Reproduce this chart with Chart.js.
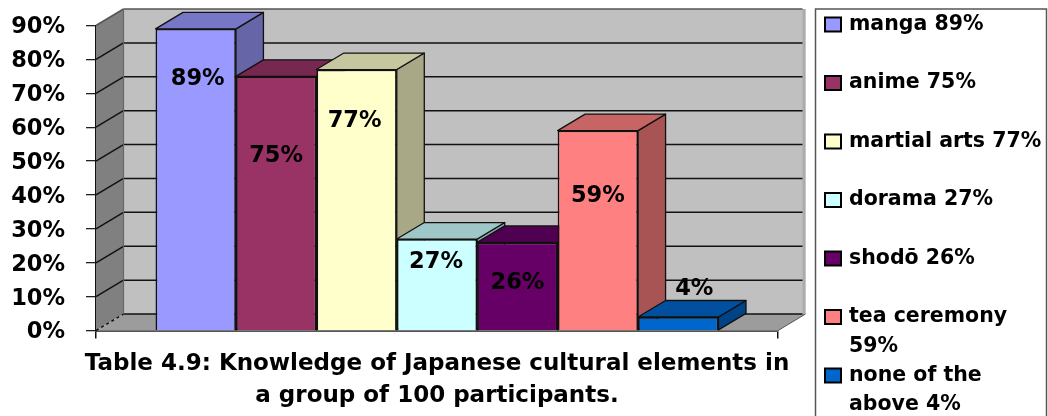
<!DOCTYPE html>
<html><head><meta charset="utf-8">
<style>html,body{margin:0;padding:0;background:#fff;overflow:hidden}canvas{display:block;filter:blur(.45px)}</style>
<script src="https://cdn.jsdelivr.net/npm/chart.js@4/dist/chart.umd.min.js"></script>
</head><body><canvas id="c" width="1048" height="416"></canvas>
<script>
const categories = [""];
const seriesNames = ["manga","anime","martial arts","dorama","shodō","tea ceremony","none of the above"];
const seriesValues = [89,75,77,27,26,59,4];
const seriesColors = ["#9999FF","#993366","#FFFFCC","#CCFFFF","#660066","#FF8080","#0066CC"];
const legendLines = [["manga 89%"],["anime 75%"],["martial arts 77%"],["dorama 27%"],["shodō 26%"],["tea ceremony","59%"],["none of the","above 4%"]];
const titleLines = ["Table 4.9: Knowledge of Japanese cultural elements in","a group of 100 participants."];
const yMax = 90, yStep = 10;

const FONT = '"DejaVu Sans"';
const DX = 27.5, DY = -16.5;
const labelNudge = [[2,50],[0,80],[-2,52],[-1,23],[0,41],[0,66],[16,-28]];

function shade(hex,k){
  const n=parseInt(hex.slice(1),16);
  return `rgb(${Math.round((n>>16)*k)},${Math.round(((n>>8)&255)*k)},${Math.round((n&255)*k)})`;
}
function poly(ctx,pts,fill,stroke,lw){
  ctx.beginPath();pts.forEach((p,i)=>i?ctx.lineTo(p[0],p[1]):ctx.moveTo(p[0],p[1]));ctx.closePath();
  if(fill){ctx.fillStyle=fill;ctx.fill();}
  if(stroke){ctx.strokeStyle=stroke;ctx.lineWidth=lw||1;ctx.stroke();}
}
const walls={
  id:'walls',
  afterLayout(chart){
    // the title is wider than the plot area it is centred on
    const t=chart.titleBlock; t.left-=30; t.right+=30; t.width+=60;
  },
  beforeDatasetsDraw(chart){
    const {ctx,scales:{y},chartArea:a}=chart;
    const y0=y.getPixelForValue(0), yT=y.getPixelForValue(yMax), L=a.left, R=a.right;
    ctx.save();
    poly(ctx,[[L+DX,yT+DY],[R+DX,yT+DY],[R+DX,y0+DY],[L+DX,y0+DY]],'#C0C0C0');
    poly(ctx,[[R+DX-3,yT+DY],[R+DX,yT+DY],[R+DX,y0+DY],[R+DX-3,y0+DY+2]],'#ACACAC');
    poly(ctx,[[L,yT],[L+DX,yT+DY],[L+DX,y0+DY],[L,y0]],'#808080');
    poly(ctx,[[L,y0],[R,y0],[R+DX,y0+DY],[L+DX,y0+DY]],'#9C9C9C');
    ctx.lineWidth=1.5;
    for(let v=0;v<=yMax;v+=yStep){
      const p=y.getPixelForValue(v);
      ctx.strokeStyle=v===yMax?'#555':'#111';
      ctx.beginPath();ctx.moveTo(L+DX,p+DY);ctx.lineTo(R+DX-3,p+DY);ctx.stroke();
      ctx.setLineDash(v===0?[3,3]:[]);
      ctx.beginPath();ctx.moveTo(L,p);ctx.lineTo(L+DX,p+DY);ctx.stroke();
      ctx.setLineDash([]);
    }
    ctx.strokeStyle='#666';ctx.lineWidth=1.2;
    ctx.beginPath();ctx.moveTo(L+DX,yT+DY);ctx.lineTo(L+DX,y0+DY);ctx.stroke();
    ctx.strokeStyle='#555';ctx.lineWidth=1;
    ctx.beginPath();ctx.moveTo(R,y0);ctx.lineTo(R+DX,y0+DY);ctx.stroke();
    // side and top faces, painted left to right; the fronts drawn afterwards cover what lies behind them
    ctx.lineJoin='round';
    seriesValues.forEach((_,i)=>{
      const bar=chart.getDatasetMeta(i).data[0], col=seriesColors[i];
      const l=bar.x-bar.width/2, r=bar.x+bar.width/2, t=bar.y, b=bar.base;
      poly(ctx,[[r,t],[r+DX,t+DY],[r+DX,b+DY],[r,b]],shade(col,.66),'#111',1.3);
      poly(ctx,[[l,t],[r,t],[r+DX,t+DY],[l+DX,t+DY]],shade(col,.78),'#111',1.3);
    });
    ctx.restore();
  },
  afterDatasetsDraw(chart){
    const {ctx}=chart;
    ctx.save();ctx.font=`bold 22.5px ${FONT}`;ctx.fillStyle='#000';ctx.textAlign='center';ctx.textBaseline='middle';
    seriesValues.forEach((v,i)=>{
      const bar=chart.getDatasetMeta(i).data[0];
      ctx.fillText(v+'%',bar.x+labelNudge[i][0],bar.y+labelNudge[i][1]);
    });
    ctx.restore();
  },
  afterDraw(chart){
    const {ctx}=chart;
    ctx.save();
    ctx.strokeStyle='#555';ctx.lineWidth=1.5;ctx.strokeRect(815.5,9,231,420);
    ctx.font=`bold 20.5px ${FONT}`;ctx.textBaseline='middle';ctx.textAlign='left';
    legendLines.forEach((lines,i)=>{
      const yy=24.5+i*58.5;
      ctx.fillStyle=seriesColors[i];ctx.fillRect(825,yy-7,16,14);
      ctx.strokeStyle='#000';ctx.lineWidth=2;ctx.strokeRect(825,yy-7,16,14);
      ctx.fillStyle='#000';
      lines.forEach((s,j)=>ctx.fillText(s,849,yy+j*29.5));
    });
    ctx.restore();
  }
};
new Chart(document.getElementById('c'),{
  type:'bar',
  data:{labels:categories,datasets:seriesNames.map((n,i)=>({
    label:n,data:[seriesValues[i]],backgroundColor:seriesColors[i],borderColor:'#111',borderWidth:1.7
  }))},
  plugins:[walls],
  options:{
    responsive:false,animation:false,
    layout:{padding:{left:0,right:270,top:25.5,bottom:4}},
    plugins:{
      legend:{display:false},tooltip:{enabled:false},
      title:{display:true,position:'bottom',fullSize:false,text:titleLines,color:'#000',
        font:{family:FONT,size:23,weight:'bold',lineHeight:1.39},padding:0}
    },
    datasets:{bar:{categoryPercentage:.8255,barPercentage:1}},
    scales:{
      x:{offset:true,ticks:{display:false},
        grid:{drawOnChartArea:false,drawTicks:true,tickLength:8,offset:true,color:'#111',lineWidth:1.5},
        border:{color:'#555',width:2},
        afterFit(s){s.height=17.5;}},
      y:{min:0,max:yMax,
        ticks:{stepSize:yStep,padding:21,labelOffset:2,color:'#000',font:{family:FONT,size:22.5,weight:'bold'},callback:v=>v+'%'},
        grid:{drawOnChartArea:false,tickLength:10,color:'#222',lineWidth:1.3},
        border:{color:'#111',width:1.6},
        afterFit(s){s.width=96;s.paddingTop=0;s.paddingBottom=0;}}
    }
  }
});
</script></body></html>
